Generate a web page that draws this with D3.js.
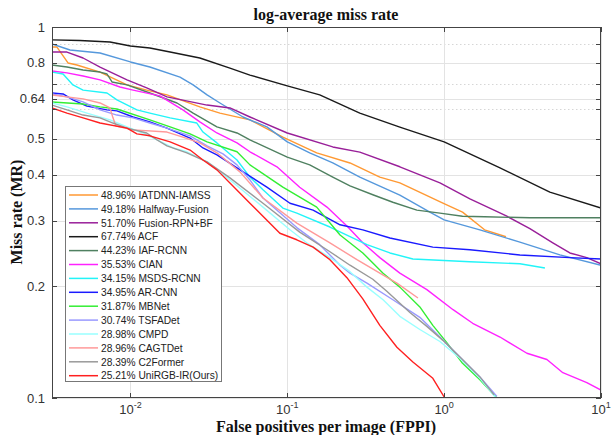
<!DOCTYPE html>
<html>
<head>
<meta charset="utf-8">
<script src="https://cdn.jsdelivr.net/npm/d3@7"></script>
<style>
  html, body { margin: 0; padding: 0; background: #fff; }
  svg { display: block; }
</style>
</head>
<body>
<svg id="chart" width="612" height="435"></svg>
<script>
// ---------------- data ----------------
const seriesNames = ["IATDNN-IAMSS","Halfway-Fusion","Fusion-RPN+BF","ACF","IAF-RCNN","CIAN","MSDS-RCNN","AR-CNN","MBNet","TSFADet","CMPD","CAGTDet","C2Former","UniRGB-IR(Ours)"];
const seriesRates = ["48.96%","49.18%","51.70%","67.74%","44.23%","35.53%","34.15%","34.95%","31.87%","30.74%","28.98%","28.96%","28.39%","25.21%"];
const seriesColors = ["#ff9933","#5598dc","#991f99","#1a1a1a","#4f8060","#ff22ff","#22f4f8","#1a1aff","#33ee33","#9999ff","#99ffff","#ff9999","#999999","#ff2020"];

const xTicks = [0.01, 0.1, 1, 10];
const xTickExp = ["-2", "-1", "0", "1"];
const yTicks = [0.1, 0.2, 0.3, 0.4, 0.5, 0.64, 0.8, 1];
const yTickLabels = ["0.1", "0.2", "0.3", "0.4", "0.5", "0.64", "0.8", "1"];
const yMinor = [0.6, 0.7, 0.9];

// [FPPI, miss rate]
const iatdnn = [[0.00316,0.883],[0.00340,0.883],[0.00400,0.800],[0.00456,0.790],[0.0064,0.756],[0.00951,0.698],[0.0127,0.676],[0.0171,0.656],[0.0277,0.609],[0.0372,0.586],[0.0578,0.562],[0.0937,0.505],[0.154,0.458],[0.251,0.430],[0.389,0.394],[0.522,0.380],[0.982,0.335],[1.31,0.317],[1.81,0.284],[2.48,0.272]];
const halfway = [[0.00316,0.900],[0.00412,0.867],[0.0064,0.851],[0.01,0.805],[0.0133,0.780],[0.0207,0.733],[0.0251,0.698],[0.0308,0.656],[0.0372,0.624],[0.0522,0.572],[0.0741,0.538],[0.1,0.490],[0.139,0.458],[0.195,0.430],[0.290,0.394],[0.522,0.352],[0.811,0.317],[1.0,0.302],[1.69,0.284],[3.04,0.263],[5.47,0.243],[10,0.228]];
const fusionRpn = [[0.00316,0.856],[0.00394,0.856],[0.00499,0.825],[0.0064,0.780],[0.00951,0.720],[0.0127,0.685],[0.0171,0.648],[0.0308,0.616],[0.0431,0.605],[0.0578,0.572],[0.1,0.518],[0.195,0.475],[0.290,0.460],[0.522,0.420],[0.940,0.380],[1.46,0.344],[2.51,0.309],[3.52,0.286],[4.93,0.262],[6.33,0.246],[8.12,0.239],[10,0.230]];
const acf = [[0.00316,0.923],[0.00476,0.920],[0.00741,0.911],[0.01,0.889],[0.0133,0.878],[0.0179,0.856],[0.0277,0.825],[0.0431,0.775],[0.0578,0.742],[0.1,0.694],[0.161,0.656],[0.290,0.586],[0.522,0.537],[1.0,0.490],[2.27,0.417],[4.72,0.359],[10,0.325]];
const iafRcnn = [[0.00316,0.790],[0.00394,0.780],[0.00499,0.766],[0.0064,0.756],[0.00709,0.747],[0.00763,0.711],[0.00951,0.698],[0.0133,0.664],[0.0198,0.624],[0.0251,0.586],[0.0356,0.538],[0.0478,0.518],[0.0578,0.496],[0.1,0.446],[0.139,0.425],[0.195,0.394],[0.251,0.373],[0.351,0.353],[0.471,0.337],[0.670,0.321],[0.940,0.315],[1.31,0.309],[1.81,0.308],[3.52,0.306],[10,0.306]];
const cian = [[0.00316,0.761],[0.00394,0.752],[0.00499,0.738],[0.0064,0.720],[0.00857,0.689],[0.0104,0.676],[0.0154,0.652],[0.0216,0.598],[0.0277,0.555],[0.0356,0.518],[0.0478,0.487],[0.0578,0.461],[0.0859,0.420],[0.120,0.370],[0.179,0.327],[0.240,0.291],[0.303,0.262],[0.389,0.239],[0.522,0.217],[0.776,0.196],[1.14,0.173],[1.52,0.159],[2.27,0.146],[3.37,0.132],[4.52,0.127],[5.71,0.117],[8.12,0.110],[10,0.105]];
const msdsRcnn = [[0.00316,0.756],[0.00372,0.747],[0.00430,0.698],[0.00499,0.676],[0.00709,0.664],[0.00820,0.636],[0.0110,0.598],[0.0133,0.586],[0.0179,0.569],[0.0265,0.551],[0.0290,0.521],[0.0356,0.487],[0.0478,0.438],[0.0578,0.394],[0.0700,0.364],[0.0937,0.325],[0.115,0.315],[0.187,0.289],[0.322,0.259],[0.451,0.246],[0.632,0.237],[1.46,0.233],[3.04,0.230],[4.39,0.224]];
const arCnn = [[0.00316,0.664],[0.00372,0.660],[0.00430,0.636],[0.00528,0.612],[0.00709,0.598],[0.00820,0.594],[0.0104,0.572],[0.0133,0.555],[0.0171,0.534],[0.0240,0.502],[0.0290,0.472],[0.0356,0.452],[0.0478,0.417],[0.0741,0.370],[0.104,0.335],[0.146,0.321],[0.217,0.293],[0.303,0.284],[0.451,0.270],[0.847,0.255],[1.46,0.251],[3.04,0.243],[6.33,0.239],[10,0.237]];
const mbnet = [[0.00316,0.628],[0.00499,0.620],[0.0064,0.609],[0.00820,0.601],[0.0133,0.562],[0.0179,0.538],[0.0240,0.515],[0.0308,0.490],[0.0478,0.461],[0.0578,0.425],[0.0937,0.370],[0.154,0.327],[0.217,0.275],[0.303,0.246],[0.408,0.217],[0.522,0.199],[0.700,0.176],[0.847,0.157],[1.04,0.141],[1.31,0.124],[1.69,0.112],[2.17,0.100]];
const tsfadet = [[0.00316,0.660],[0.00394,0.648],[0.00499,0.628],[0.0064,0.598],[0.00820,0.579],[0.0104,0.569],[0.0133,0.551],[0.0171,0.534],[0.0240,0.509],[0.0308,0.478],[0.0389,0.455],[0.0478,0.425],[0.0578,0.387],[0.0700,0.346],[0.115,0.288],[0.161,0.259],[0.217,0.228],[0.251,0.217],[0.322,0.204],[0.471,0.184],[0.700,0.165],[0.940,0.146],[1.26,0.129],[1.69,0.114],[2.17,0.101]];
const cmpd = [[0.00316,0.624],[0.00394,0.609],[0.00528,0.586],[0.00741,0.562],[0.00951,0.538],[0.0120,0.518],[0.0148,0.496],[0.0187,0.472],[0.0229,0.461],[0.0308,0.433],[0.0431,0.387],[0.0700,0.327],[0.104,0.284],[0.133,0.262],[0.187,0.239],[0.251,0.219],[0.322,0.199],[0.408,0.184],[0.522,0.166],[0.700,0.153],[0.940,0.142],[1.26,0.128],[1.69,0.113],[2.14,0.100]];
const cagtdet = [[0.00316,0.656],[0.00394,0.648],[0.00499,0.640],[0.0064,0.624],[0.00741,0.605],[0.00774,0.569],[0.00809,0.541],[0.0104,0.528],[0.0171,0.521],[0.0216,0.505],[0.0277,0.487],[0.0356,0.458],[0.0499,0.407],[0.0700,0.346],[0.115,0.296],[0.187,0.262],[0.278,0.236],[0.389,0.217],[0.500,0.204],[0.681,0.186]];
const c2former = [[0.00316,0.616],[0.00394,0.598],[0.00499,0.579],[0.0064,0.569],[0.00774,0.551],[0.00951,0.534],[0.0127,0.518],[0.0148,0.496],[0.0171,0.478],[0.0229,0.458],[0.0308,0.433],[0.0431,0.392],[0.0700,0.335],[0.120,0.280],[0.179,0.251],[0.251,0.228],[0.351,0.209],[0.431,0.194],[0.522,0.180],[0.605,0.170],[0.776,0.156],[0.982,0.143],[1.26,0.129],[1.69,0.114],[2.08,0.102]];
const unirgb = [[0.00316,0.605],[0.00394,0.586],[0.00499,0.569],[0.0064,0.551],[0.00951,0.534],[0.0110,0.515],[0.0133,0.509],[0.0179,0.490],[0.0240,0.466],[0.0290,0.438],[0.0356,0.412],[0.0431,0.380],[0.0578,0.335],[0.0897,0.278],[0.115,0.267],[0.146,0.255],[0.187,0.236],[0.240,0.211],[0.303,0.185],[0.389,0.157],[0.500,0.137],[0.632,0.125],[0.847,0.113],[1.01,0.100]];

const seriesData = [iatdnn, halfway, fusionRpn, acf, iafRcnn, cian, msdsRcnn, arCnn, mbnet, tsfadet, cmpd, cagtdet, c2former, unirgb];

// ---------------- layout ----------------
const svg = d3.select("#chart");
const L = 52, R = 601, T = 27, B = 398;
const x = d3.scaleLog().domain([Math.pow(10, -2.5), 10]).range([L, R]);
const y = d3.scaleLog().domain([0.1, 1]).range([B, T]);

const sans = "'Liberation Sans', Arial, sans-serif";
const serif = "'Liberation Serif', 'Times New Roman', serif";
const axisColor = "#444";

// grid
const grid = svg.append("g");
grid.selectAll("line.ymaj").data(yTicks).join("line")
  .attr("x1", L).attr("x2", R)
  .attr("y1", d => Math.round(y(d)) + 0.5).attr("y2", d => Math.round(y(d)) + 0.5)
  .attr("stroke", "#e3e3e3").attr("stroke-width", 1);
grid.selectAll("line.ymin").data(yMinor).join("line")
  .attr("x1", L).attr("x2", R)
  .attr("y1", d => Math.round(y(d)) + 0.5).attr("y2", d => Math.round(y(d)) + 0.5)
  .attr("stroke", "#d6d6d6").attr("stroke-width", 1).attr("stroke-dasharray", "1.5,2.5");
grid.selectAll("line.xmaj").data(xTicks).join("line")
  .attr("x1", d => Math.round(x(d)) + 0.5).attr("x2", d => Math.round(x(d)) + 0.5)
  .attr("y1", T).attr("y2", B)
  .attr("stroke", "#e3e3e3").attr("stroke-width", 1);

// curves
svg.append("clipPath").attr("id", "plotclip")
  .append("rect").attr("x", L).attr("y", T).attr("width", R - L).attr("height", B - T);
const line = d3.line().x(d => x(d[0])).y(d => y(d[1])).curve(d3.curveLinear);
const curves = svg.append("g").attr("clip-path", "url(#plotclip)");
seriesData.forEach((s, i) => {
  curves.append("path").attr("d", line(s))
    .attr("fill", "none").attr("stroke", seriesColors[i])
    .attr("stroke-width", 1.4).attr("stroke-linejoin", "round");
});

// axes box
svg.append("rect").attr("x", L + 0.5).attr("y", T + 0.5)
  .attr("width", R - L - 1).attr("height", B - T - 1)
  .attr("fill", "none").attr("stroke", axisColor).attr("stroke-width", 1);

// ticks (inward on all sides)
const tk = svg.append("g").attr("stroke", axisColor).attr("stroke-width", 1);
const allY = yTicks.concat(yMinor);
allY.forEach(v => {
  const yy = Math.round(y(v)) + 0.5;
  tk.append("line").attr("x1", L).attr("x2", L + 5).attr("y1", yy).attr("y2", yy);
  tk.append("line").attr("x1", R - 5).attr("x2", R).attr("y1", yy).attr("y2", yy);
});
xTicks.forEach(v => {
  const xx = Math.round(x(v)) + 0.5;
  tk.append("line").attr("x1", xx).attr("x2", xx).attr("y1", B).attr("y2", B - 5);
  tk.append("line").attr("x1", xx).attr("x2", xx).attr("y1", T).attr("y2", T + 5);
});

// y tick labels
svg.append("g").selectAll("text").data(yTicks).join("text")
  .attr("x", L - 7).attr("y", d => y(d) + 4.5)
  .attr("text-anchor", "end").attr("font-family", sans).attr("font-size", 13)
  .attr("fill", "#333").text((d, i) => yTickLabels[i]);

// x tick labels with superscripts
const xl = svg.append("g");
xTicks.forEach((v, i) => {
  const t = xl.append("text").attr("x", x(v)).attr("y", 414)
    .attr("text-anchor", "middle").attr("font-family", sans).attr("font-size", 13).attr("fill", "#333");
  t.append("tspan").text("10");
  t.append("tspan").attr("dy", -6).attr("font-size", 9).text(xTickExp[i]);
});

// titles
svg.append("text").attr("x", 326).attr("y", 20).attr("text-anchor", "middle")
  .attr("font-family", serif).attr("font-weight", "bold").attr("font-size", 16).attr("fill", "#111")
  .text("log-average miss rate");
svg.append("text").attr("x", 326).attr("y", 432).attr("text-anchor", "middle")
  .attr("font-family", serif).attr("font-weight", "bold").attr("font-size", 16).attr("fill", "#111")
  .text("False positives per image (FPPI)");
svg.append("text").attr("transform", "translate(22,212) rotate(-90)").attr("text-anchor", "middle")
  .attr("font-family", serif).attr("font-weight", "bold").attr("font-size", 16).attr("fill", "#111")
  .text("Miss rate (MR)");

// legend
const lg = svg.append("g");
lg.append("rect").attr("x", 65.5).attr("y", 186.5).attr("width", 156).attr("height", 195)
  .attr("fill", "#fff").attr("stroke", "#777").attr("stroke-width", 1);
seriesNames.forEach((n, i) => {
  const yy = 195 + i * 13.9;
  lg.append("line").attr("x1", 69).attr("x2", 98).attr("y1", yy).attr("y2", yy)
    .attr("stroke", seriesColors[i]).attr("stroke-width", 1.5);
  lg.append("text").attr("x", 101).attr("y", yy + 3.7)
    .attr("font-family", sans).attr("font-size", 10.2).attr("fill", "#222")
    .text(seriesRates[i] + " " + n);
});
</script>
</body>
</html>
